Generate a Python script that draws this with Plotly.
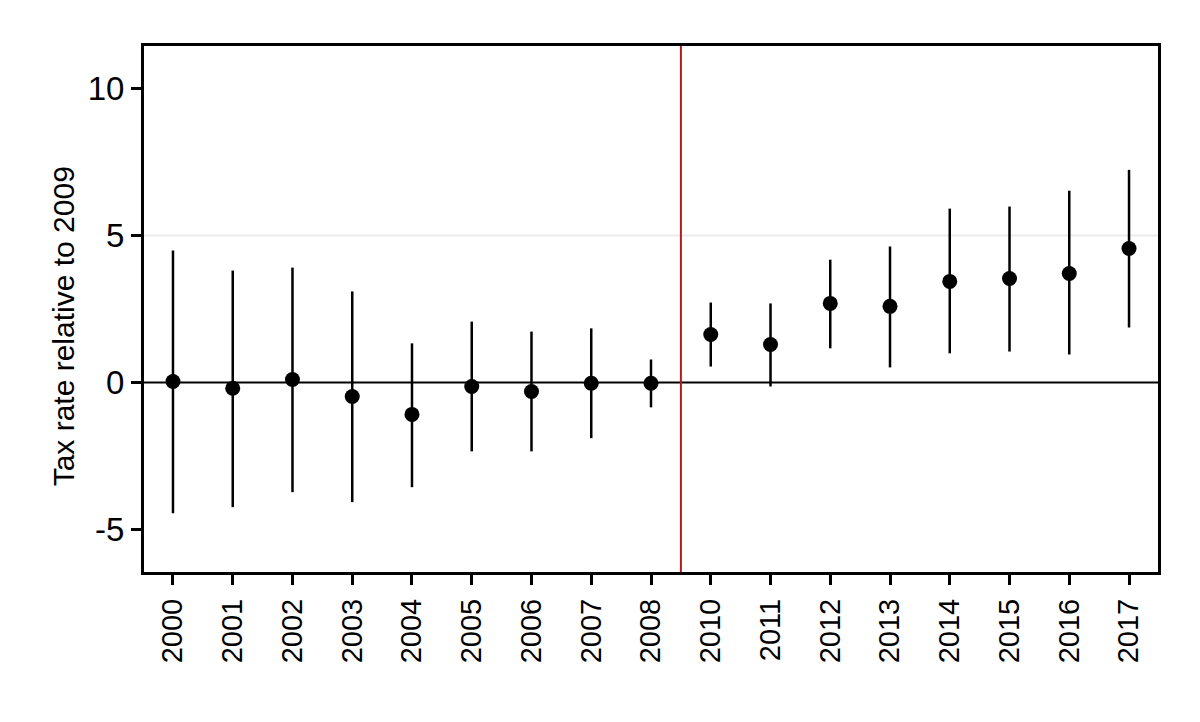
import plotly.graph_objects as go

years = ["2000", "2001", "2002", "2003", "2004", "2005", "2006", "2007", "2008",
         "2010", "2011", "2012", "2013", "2014", "2015", "2016", "2017"]
estimate = [0.03, -0.20, 0.10, -0.48, -1.09, -0.14, -0.31, -0.03, -0.03,
            1.63, 1.29, 2.69, 2.59, 3.44, 3.54, 3.71, 4.56]
ci_upper = [4.49, 3.81, 3.91, 3.10, 1.33, 2.07, 1.73, 1.84, 0.78,
            2.72, 2.69, 4.18, 4.63, 5.92, 5.99, 6.53, 7.24]
ci_lower = [-4.46, -4.25, -3.74, -4.08, -3.57, -2.35, -2.35, -1.90, -0.85,
            0.54, -0.14, 1.16, 0.51, 0.99, 1.05, 0.95, 1.87]
y_ticks = [-5, 0, 5, 10]
grid_y = 5
break_pos = 8.5
y_title = "Tax rate relative to 2009"

err_plus = [u - e for u, e in zip(ci_upper, estimate)]
err_minus = [e - l for e, l in zip(estimate, ci_lower)]
x_range = [-0.485, len(years) - 1 + 0.485]
idx = list(range(len(years)))

fig = go.Figure()
fig.add_trace(go.Scatter(
    x=years, y=estimate, mode="markers",
    marker=dict(color="black", size=15),
    error_y=dict(type="data", symmetric=False, array=err_plus, arrayminus=err_minus,
                 color="black", thickness=2.5, width=0),
    showlegend=False,
))
# invisible companion trace so the label axis renders
fig.add_trace(go.Scatter(
    x=idx, y=estimate, xaxis="x2", mode="markers",
    marker=dict(opacity=0), hoverinfo="skip", showlegend=False,
))

fig.add_shape(type="line", xref="paper", x0=0, x1=1, yref="y", y0=grid_y, y1=grid_y,
              line=dict(color="#ebebeb", width=2), layer="below")
fig.add_shape(type="line", xref="paper", x0=0, x1=1, yref="y", y0=0, y1=0,
              line=dict(color="black", width=2), layer="below")
fig.add_shape(type="line", xref="x", x0=break_pos, x1=break_pos, yref="paper", y0=0, y1=1,
              line=dict(color="#b01c1c", width=2), layer="below")

fig.add_annotation(text=y_title, textangle=-90, xref="paper", yref="paper",
                   x=0, y=0.467, xshift=-81, xanchor="center", yanchor="middle",
                   showarrow=False, font=dict(size=30, color="black"))

fig.update_layout(
    width=1200, height=722,
    margin=dict(l=136, r=50, t=38, b=158),
    paper_bgcolor="white", plot_bgcolor="white",
    font=dict(family="Liberation Sans, Arial, sans-serif", color="black"),
    xaxis=dict(
        type="category", range=x_range,
        showline=True, linecolor="black", linewidth=3, mirror=True,
        ticks="outside", ticklen=10, tickwidth=3, tickcolor="black",
        showticklabels=False, showgrid=False, zeroline=False,
    ),
    xaxis2=dict(
        overlaying="x", anchor="y", side="bottom", type="linear", range=x_range,
        tickmode="array", tickvals=idx, ticktext=years,
        ticks="", tickangle=-90, tickfont=dict(size=29), ticklabelstandoff=20,
        showgrid=False, zeroline=False, showline=False,
    ),
)
fig.update_yaxes(
    range=[-6.46, 11.46], tickvals=y_ticks, ticktext=[str(v) for v in y_ticks],
    showline=True, linecolor="black", linewidth=3, mirror=True,
    ticks="outside", ticklen=10, tickwidth=3, tickcolor="black",
    tickfont=dict(size=33), showgrid=False, zeroline=False,
)

fig.write_html("out.html")
